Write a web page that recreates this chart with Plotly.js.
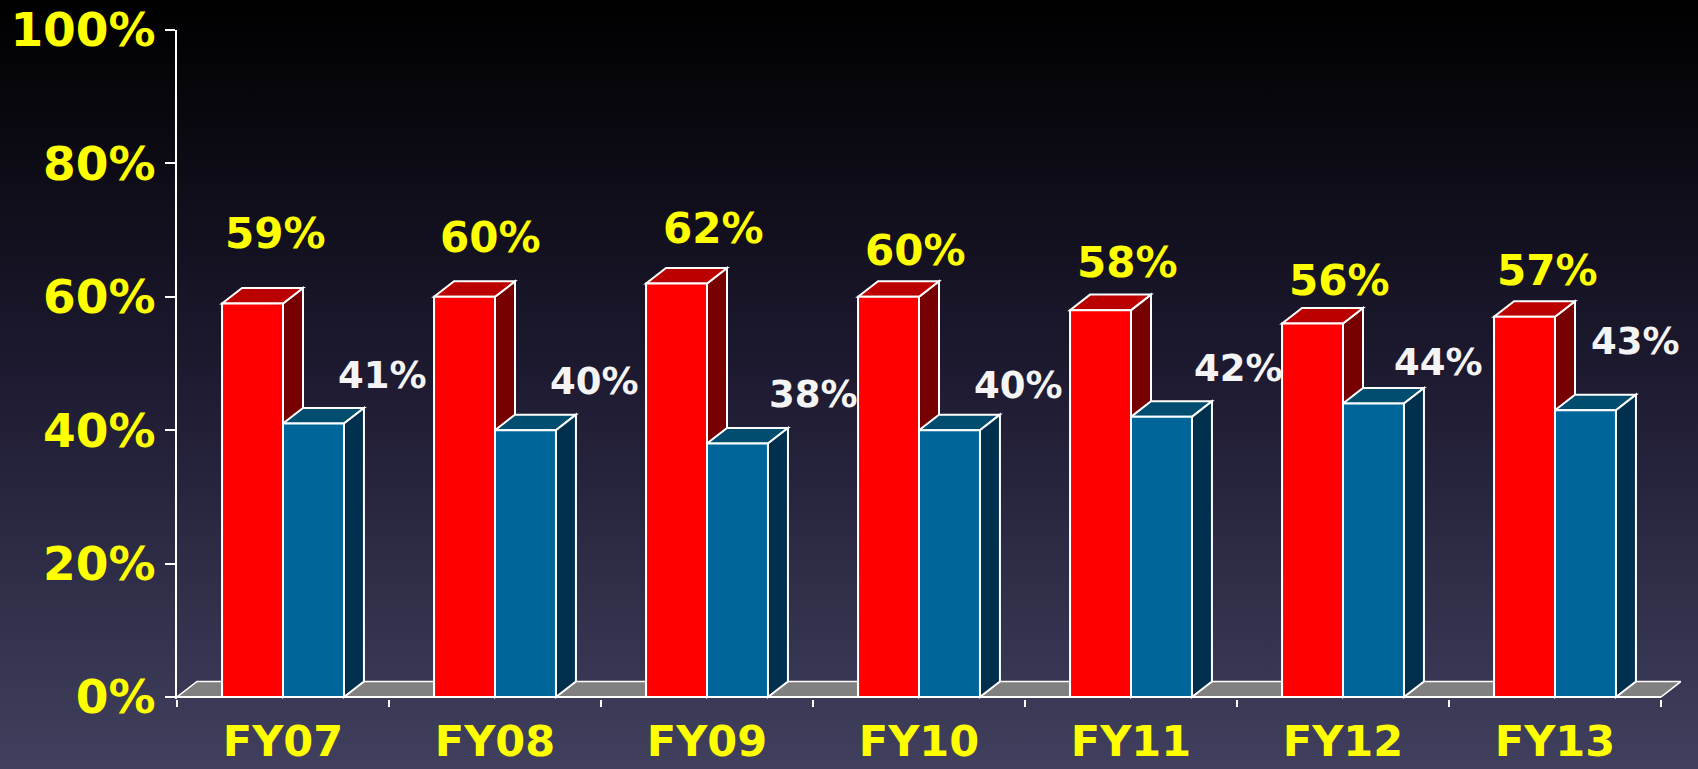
<!DOCTYPE html>
<html>
<head>
<meta charset="utf-8">
<script src="https://cdn.plot.ly/plotly-3.0.1.min.js"></script>
<style>
  html, body { margin: 0; padding: 0; width: 1698px; height: 769px; overflow: hidden;
    background: linear-gradient(to bottom, #000000 0%, #1e1b32 50%, #40405e 100%); }
  #chart { width: 1698px; height: 769px; }
</style>
</head>
<body>
<div id="chart"></div>
<script>
// ---- data ----
const categories  = ['FY07', 'FY08', 'FY09', 'FY10', 'FY11', 'FY12', 'FY13'];
const redValues   = [59, 60, 62, 60, 58, 56, 57];
const blueValues  = [41, 40, 38, 40, 42, 44, 43];
const yTickVals   = [0, 20, 40, 60, 80, 100];
const yTickLabels = ['0%', '20%', '40%', '60%', '80%', '100%'];

// ---- label placement offsets (px, relative to category centre / bar top) ----
const redLabelDX  = [-8, -5, 6, -4, -4, -4, -8];
const redLabelDY  = [70, 59, 55, 46, 48, 43, 46];
const blueLabelDX = [99, 99, 106, 99, 107, 95, 80];
const blueLabelDY = [48, 49, 49, 45, 48, 41, 69];

// ---- style ----
const BARGAP = 0.425;
const W = (1 - BARGAP) / 2;      // each bar width in category units
const DX = 20 / 212;             // 3D depth, x (category units)
const DY = 2.33;                 // 3D depth, y (percent units)
const RED = '#ff0000', RED_TOP = '#bb0000', RED_SIDE = '#770000';
const BLUE = '#006699', BLUE_TOP = '#004d70', BLUE_SIDE = '#00304d';
const EDGE = {color: '#ffffff', width: 2};
const n = categories.length;

function poly(pts) {
  return 'M' + pts.map(p => p[0] + ',' + p[1]).join('L') + 'Z';
}

const shapes = [];
// floor
shapes.push({type: 'path', xref: 'x', yref: 'y', layer: 'below',
  path: poly([[-0.5, 0], [n - 0.5, 0], [n - 0.5 + DX, DY], [-0.5 + DX, DY]]),
  fillcolor: '#808080', line: {color: '#ffffff', width: 1.5}});

categories.forEach((c, i) => {
  const r = redValues[i], b = blueValues[i];
  const rx0 = i - W, rx1 = i;
  const bx0 = i, bx1 = i + W;
  shapes.push({type: 'path', xref: 'x', yref: 'y', layer: 'below',
    path: poly([[rx1, 0], [rx1, r], [rx1 + DX, r + DY], [rx1 + DX, DY]]),
    fillcolor: RED_SIDE, line: EDGE});
  shapes.push({type: 'path', xref: 'x', yref: 'y', layer: 'below',
    path: poly([[rx0, r], [rx1, r], [rx1 + DX, r + DY], [rx0 + DX, r + DY]]),
    fillcolor: RED_TOP, line: EDGE});
  shapes.push({type: 'path', xref: 'x', yref: 'y', layer: 'below',
    path: poly([[bx0, b], [bx1, b], [bx1 + DX, b + DY], [bx0 + DX, b + DY]]),
    fillcolor: BLUE_TOP, line: EDGE});
  shapes.push({type: 'path', xref: 'x', yref: 'y', layer: 'below',
    path: poly([[bx1, 0], [bx1, b], [bx1 + DX, b + DY], [bx1 + DX, DY]]),
    fillcolor: BLUE_SIDE, line: EDGE});
});
// x axis baseline (front edge of the floor)
shapes.push({type: 'line', xref: 'x', yref: 'y', layer: 'above',
  x0: -0.5, x1: n - 0.5, y0: 0, y1: 0, line: {color: '#ffffff', width: 2}});

const annotations = [];
categories.forEach((c, i) => {
  annotations.push({x: c, y: redValues[i], xref: 'x', yref: 'y', showarrow: false,
    text: redValues[i] + '%', xshift: redLabelDX[i], yshift: redLabelDY[i],
    xanchor: 'center', yanchor: 'middle',
    font: {family: 'DejaVu Sans', size: 42, color: '#ffff00', weight: 'bold'}});
  annotations.push({x: c, y: blueValues[i], xref: 'x', yref: 'y', showarrow: false,
    text: blueValues[i] + '%', xshift: blueLabelDX[i], yshift: blueLabelDY[i],
    xanchor: 'center', yanchor: 'middle',
    font: {family: 'DejaVu Sans', size: 37, color: '#f4f4f4', weight: 'bold'}});
});

const traces = [
  {type: 'bar', x: categories, y: redValues, name: 'Red',
   marker: {color: RED, line: EDGE}, hoverinfo: 'skip'},
  {type: 'bar', x: categories, y: blueValues, name: 'Blue',
   marker: {color: BLUE, line: EDGE}, hoverinfo: 'skip'}
];

const layout = {
  width: 1698, height: 769,
  margin: {l: 177, r: 17, t: 30, b: 70, pad: 0},
  paper_bgcolor: 'rgba(0,0,0,0)', plot_bgcolor: 'rgba(0,0,0,0)',
  showlegend: false,
  barmode: 'group', bargap: BARGAP, bargroupgap: 0,
  xaxis: {type: 'category', range: [-0.5, n - 0.5 + DX], tickson: 'boundaries',
    showline: false,
    ticks: 'outside', ticklen: 7, tickwidth: 2, tickcolor: '#ffffff',
    showgrid: false, zeroline: false, ticklabelstandoff: 13,
    tickfont: {family: 'DejaVu Sans', size: 43, color: '#ffff00', weight: 'bold'}},
  yaxis: {range: [-0.3, 100], tickmode: 'array', tickvals: yTickVals, ticktext: yTickLabels,
    showline: true, linecolor: '#ffffff', linewidth: 2,
    ticks: 'outside', ticklen: 10, tickwidth: 2, tickcolor: '#ffffff',
    showgrid: false, zeroline: false, ticklabelstandoff: 0,
    tickfont: {family: 'DejaVu Sans', size: 47, color: '#ffff00', weight: 'bold'}},
  shapes: shapes,
  annotations: annotations
};

Plotly.newPlot('chart', traces, layout, {displayModeBar: false, staticPlot: true});
</script>
</body>
</html>
